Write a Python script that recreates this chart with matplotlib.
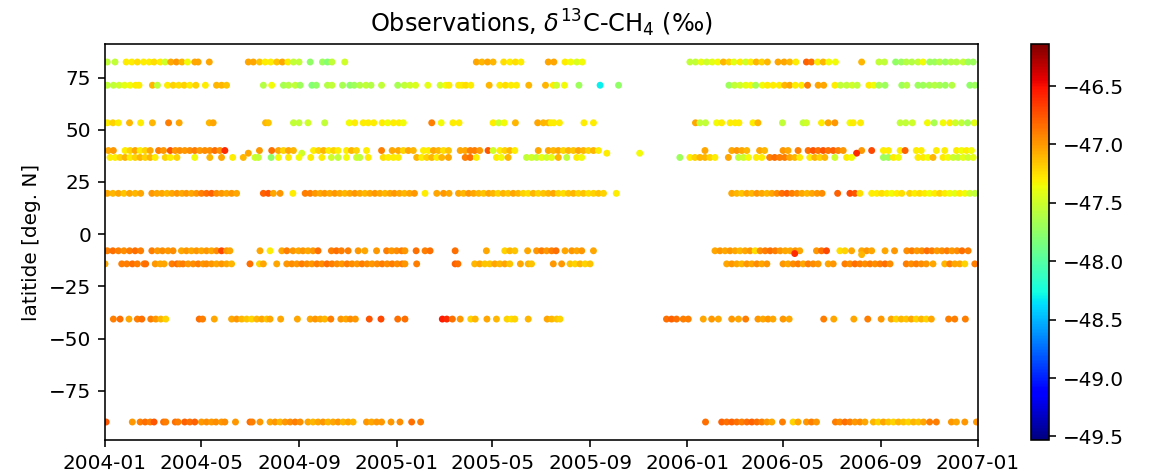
import numpy as np
import matplotlib
matplotlib.use("Agg")
import matplotlib.pyplot as plt
import matplotlib.dates as mdates

# observation times are given in weeks since 2004-01-01
t0 = np.datetime64('2004-01-01T00')

# colour scale limits of d13C-CH4 [permil]
d13c_min = -49.53
d13c_max = -46.14

# Alert
lat_alt = 82.45
alt_wk = [0.4, 1.8, 3.8, 4.8, 5.8, 6.9, 7.9, 8.8, 9.9, 10.8, 11.8, 12.8, 13.8, 14.8, 16.1, 16.7, 18.7,
          25.7, 26.6, 27.7, 28.7, 29.7, 30.8, 31.8, 32.8, 33.8, 34.8, 36.8, 39.0, 39.9, 40.7, 43.0,
          66.6, 67.6, 68.6, 69.6, 71.5, 72.6, 73.6, 74.6, 79.5, 80.5, 82.5, 83.5, 84.6, 85.6,
          104.9, 105.9, 106.9, 107.9, 108.9, 109.9, 110.9, 111.9, 112.8, 113.9, 114.9, 115.8, 116.8, 117.8,
          118.8, 120.7, 121.8, 122.8, 123.9, 125.8, 126.7, 127.8, 128.8, 129.8, 131.0, 135.7, 138.8, 139.8,
          141.8, 142.8, 143.7, 144.7, 145.8, 146.7, 147.9, 148.8, 149.7, 150.7, 151.7, 152.7, 153.9, 154.8, 155.7]
alt_d13c = [-47.55, -47.55, -47.3, -47.3, -47.25, -47.3, -47.3, -47.25, -47.3, -47.5, -47.05, -47.0, -47.1,
            -47.35, -47.05, -47.05, -47.05,
            -47.05, -47.05, -47.15, -47.3, -47.3, -47.15, -47.05, -47.3, -47.55, -47.55, -47.75, -47.7, -47.8,
            -47.55, -47.5,
            -47.05, -47.1, -47.05, -47.1, -47.25, -47.3, -47.25, -47.3, -47.05, -47.05, -47.3, -47.35, -47.45, -47.35,
            -47.55, -47.55, -47.4, -47.5, -47.4, -47.35, -47.1, -47.2, -47.4, -47.3, -47.5, -47.3, -47.1, -47.2,
            -47.1, -47.05, -47.05, -47.1, -47.3, -46.8, -46.85, -47.3, -47.1, -47.35, -47.35, -47.1, -47.55, -47.55,
            -47.75, -47.7, -47.6, -47.6, -47.55, -47.35, -47.7, -47.7, -47.6, -47.7, -47.6, -47.6, -47.55, -47.7, -47.7]

# Barrow
lat_brw = 71.32
brw_wk = [0.4, 1.5, 2.5, 3.5, 4.5, 5.5, 6.1, 8.5, 9.4, 11.2, 12.2, 13.2, 14.2, 15.2, 16.3, 18.0, 20.0, 20.9, 21.8,
          28.4, 29.9, 32.0, 32.9, 34.1, 35.0, 37.1, 37.9, 39.9, 40.7, 42.6, 43.9, 44.7, 45.7, 46.8, 47.7, 49.6,
          52.5, 53.7, 54.7, 55.7, 57.9, 60.1, 61.1, 61.7, 63.4, 64.0, 64.7, 65.6, 68.9, 70.8, 71.8, 72.8, 73.8,
          76.0, 79.0,
          80.4, 81.0, 82.4, 85.0, 88.8, 92.1,
          111.9, 112.9, 113.9, 114.9, 115.8, 116.7, 117.9, 118.8, 119.8, 120.9, 121.9, 122.8, 123.8, 124.9,
          126.0, 127.9, 128.9, 130.9, 131.9, 133.0, 134.0, 134.9, 137.0, 137.9, 138.8, 139.9, 142.9, 143.8,
          145.8, 146.7, 147.8, 148.8, 149.7, 150.7, 151.9, 155.1, 156.0]
brw_d13c = [-47.55, -47.55, -47.5, -47.4, -47.35, -47.3, -47.3, -47.1, -47.55, -47.3, -47.2, -47.25, -47.2, -47.3,
            -47.2, -47.3, -47.1, -47.1, -47.15,
            -47.6, -47.35, -47.65, -47.6, -47.55, -47.7, -47.8, -47.75, -47.6, -47.55, -47.65, -47.75, -47.7, -47.6,
            -47.55, -47.6, -47.55, -47.65, -47.55, -47.5, -47.45, -47.4, -47.5, -47.35, -47.3, -47.3, -47.3,
            -47.25, -47.3, -47.1, -47.3, -47.25, -47.3, -47.3, -47.1, -47.1,
            -47.3, -47.5, -47.35, -47.7, -48.3, -47.75,
            -47.7, -47.55, -47.5, -47.4, -47.35, -47.65, -47.35, -47.3, -47.3, -47.3, -47.1, -47.05, -47.3, -47.3,
            -46.9, -47.05, -47.05, -47.3, -47.55, -47.55, -47.5, -47.55, -47.3, -47.35, -47.65, -47.7, -47.7, -47.6,
            -47.7, -47.7, -47.65, -47.6, -47.65, -47.7, -47.6, -47.75, -47.7]

# Mace Head
lat_mhd = 53.33
mhd_wk = [0.4, 1.4, 2.4, 4.4, 6.4, 8.5, 11.4, 13.3, 18.7, 19.4, 28.8, 29.3, 33.8, 34.8, 36.4, 39.4, 43.8, 44.8,
          46.3, 47.2, 48.2, 49.7, 50.7, 51.7, 52.7, 53.5, 58.6, 60.3, 62.4, 63.5, 69.6, 70.6, 71.6, 73.6, 77.6,
          78.6, 79.5, 80.0, 80.5, 81.5, 85.9, 87.6,
          105.9, 106.7, 107.7, 109.7, 110.6, 112.1, 113.0, 113.7, 116.2, 117.1, 121.5, 125.2, 125.8, 128.5,
          129.7, 130.9, 133.6, 134.2, 135.5, 142.6, 143.6, 144.8, 147.5, 148.7, 150.3, 151.5, 152.5, 153.6,
          154.7, 155.9]
mhd_d13c = [-47.3, -47.2, -47.3, -47.1, -47.3, -47.1, -46.9, -47.05, -47.1, -47.05, -47.1, -47.15, -47.55, -47.55,
            -47.5, -47.55, -47.35, -47.3, -47.3, -47.3, -47.3, -47.3, -47.35, -47.3, -47.3, -47.35, -46.9, -47.35,
            -47.3, -47.3, -47.3, -47.5, -47.35, -47.1, -47.05, -47.1, -47.1, -47.3, -47.3, -47.3, -47.3, -47.3,
            -47.05, -47.55, -47.55, -47.35, -47.3, -47.3, -47.3, -47.3, -47.3, -47.1, -47.55, -47.55, -47.5, -47.3,
            -47.05, -47.0, -47.35, -47.3, -47.3, -47.55, -47.55, -47.5, -47.35, -47.65, -47.35, -47.3, -47.5,
            -47.55, -47.65, -47.4]

# Niwot Ridge
lat_nwr = 40.05
nwr_wk = [0.6, 1.5, 3.6, 4.5, 5.4, 6.3, 7.2, 8.1, 9.6, 10.5, 11.7, 12.6, 13.4, 14.3, 15.2, 16.1, 17.0, 17.9,
          18.8, 19.7, 20.6, 21.5,
          27.7, 29.9, 31.1, 32.0, 32.9, 33.8, 37.4, 38.3, 39.2, 40.1, 41.0, 41.8, 43.3, 44.2, 45.1, 46.9, 49.6, 51.5,
          52.6, 53.5, 54.4, 55.3, 57.1, 58.0, 58.9, 59.8, 60.7, 61.6, 63.7, 64.6, 65.5, 66.3, 67.2, 68.7, 69.6,
          70.8, 71.7, 72.6, 73.5,
          77.7, 79.5, 80.4, 81.3, 82.2, 83.1, 84.0, 84.9, 85.8, 86.7, 87.6, 88.5,
          107.6, 112.4, 113.3, 114.2, 115.1, 117.4, 118.3, 121.6, 122.5, 124.3, 126.1, 127.0, 127.9, 128.8,
          129.7, 130.6, 131.5, 132.4,
          135.7, 137.5, 139.6, 140.5, 142.6, 143.5, 145.5, 146.4, 149.1, 150.6, 152.7, 153.6, 154.5, 155.4]
nwr_d13c = [-47.05, -47.0, -47.3, -47.2, -47.05, -47.3, -47.2, -47.05, -46.9, -47.0, -46.75, -47.0, -46.95, -47.0,
            -46.95, -46.9, -47.0, -46.95, -46.95, -46.85, -46.95, -46.6,
            -47.0, -46.85, -47.05, -47.2, -47.05, -47.1, -47.3, -47.2, -47.1, -47.3, -47.2, -47.3, -47.3, -47.1,
            -47.2, -47.3, -46.9, -47.05,
            -47.05, -47.2, -47.05, -47.1, -47.3, -47.3, -47.05, -47.1, -47.25, -47.15, -47.05, -47.05, -46.9,
            -46.9, -47.0, -46.75, -47.5, -47.3, -47.2, -47.1, -47.3,
            -47.05, -47.05, -47.1, -47.05, -47.2, -47.1, -47.15, -47.05, -47.1, -47.2, -47.1, -47.3,
            -47.05, -47.05, -47.0, -47.05, -47.1, -47.05, -47.1, -47.0, -47.05, -46.9, -46.85, -46.75, -46.85,
            -46.75, -46.85, -46.8, -46.9, -47.0,
            -47.0, -46.7, -47.3, -47.3, -47.3, -46.8, -47.3, -47.3, -47.3, -47.3, -47.3, -47.35, -47.3, -47.35]

# Azores
lat_azr = 38.77
azr_wk = [25.7, 35.3, 90.0, 95.9, 134.8]
azr_d13c = [-47.05, -47.5, -47.3, -47.35, -46.6]

# Tae-ahn Peninsula
lat_tap = 36.73
tap_wk = [0.9, 1.8, 2.7, 3.6, 4.5, 5.4, 6.3, 7.2, 8.1, 9.0, 10.8, 11.7, 12.9, 16.1, 18.8, 20.9, 22.9, 24.8,
          26.9, 27.5, 29.8, 31.1, 32.9, 34.8, 36.9, 38.9, 40.6, 41.8, 43.3, 45.1, 45.7, 47.2, 49.9, 50.8, 51.7, 52.6,
          55.9, 56.8, 57.7, 58.6, 59.5, 60.4, 61.6, 64.6, 65.5, 66.6, 70.2, 71.1, 72.3, 75.6, 76.5, 77.4, 78.3,
          79.2, 80.1, 81.3, 82.8, 84.6, 85.5,
          103.1, 104.9, 105.8, 106.7, 107.6, 108.5, 109.4, 111.8, 113.6, 114.5, 115.4, 116.8, 117.8, 119.2,
          120.1, 121.0, 121.9, 122.8, 123.7, 124.6, 126.4, 127.3, 128.2, 129.1, 130.9, 133.0, 133.9, 139.6,
          140.5, 141.4, 142.3, 145.8, 146.7, 147.6, 148.5, 150.3, 151.2, 152.1, 153.0, 153.9, 154.8, 155.7]
tap_d13c = [-47.3, -47.3, -47.2, -47.1, -47.3, -47.2, -47.1, -47.2, -47.1, -47.3, -47.2, -47.3, -47.2, -47.35,
            -47.1, -47.05, -47.3, -47.1, -47.5, -47.55, -47.75, -47.35, -47.3, -47.35, -47.3, -47.3, -47.5,
            -47.55, -47.35, -47.5, -47.55, -47.3, -47.25, -47.3, -47.3, -47.3,
            -47.1, -47.3, -47.2, -47.1, -47.3, -47.1, -47.05, -46.9, -46.85, -47.3, -47.3, -47.35, -47.1, -47.55,
            -47.5, -47.55, -47.4, -47.5, -47.4, -47.1, -47.55, -47.3, -47.35,
            -47.7, -47.3, -47.2, -47.1, -47.1, -47.2, -47.3, -47.05, -47.55, -47.5, -47.35, -47.3, -47.3, -46.9,
            -46.85, -46.9, -46.9, -47.05, -47.1, -47.3, -47.3, -47.1, -47.2, -47.1, -47.5, -47.3, -47.35, -47.7,
            -47.7, -47.3, -47.35, -47.3, -47.3, -47.35, -47.1, -47.3, -47.35, -47.5, -47.55, -47.4, -47.5, -47.4]

# Mauna Loa
lat_mlo = 19.54
mlo_wk = [0.4, 1.4, 2.4, 3.4, 4.4, 5.4, 6.4, 8.4, 9.3, 10.2, 11.1, 12.0, 12.9, 13.8, 14.6, 15.5, 16.4, 17.3,
          18.2, 19.1, 20.0, 20.9, 21.8, 22.7, 23.6,
          28.4, 29.3, 30.2, 31.4, 33.7, 35.9, 36.8, 37.7, 38.6, 39.4, 40.3, 41.2, 42.1, 43.0, 43.9, 44.8, 45.7,
          46.6, 47.5, 48.4, 49.3, 50.2, 51.1, 51.9, 52.8, 53.7, 54.6, 55.5, 57.4, 59.5, 60.7, 61.7, 63.4, 64.3,
          65.2, 66.1, 67.0, 67.9, 68.8, 69.6, 70.5, 71.4, 72.3, 73.2, 74.1, 75.0, 75.9, 76.8, 77.7, 78.6, 79.5,
          80.4, 81.3, 82.2, 83.1, 84.0, 84.9, 85.8, 86.7, 87.6, 88.5, 89.4, 91.7,
          112.4, 113.3, 114.2, 115.1, 116.0, 116.9, 117.8, 118.7, 119.6, 120.5, 121.4, 122.3, 123.2, 124.1,
          125.0, 125.9, 126.8, 127.7, 128.6, 131.4, 133.6, 134.5, 135.4, 137.5, 138.4, 139.3, 140.2, 141.1,
          142.0, 142.9, 144.3, 145.2, 146.1, 147.0, 147.9, 148.8, 149.7, 150.6, 151.5, 152.4, 153.3, 154.2,
          155.1, 156.0]
mlo_d13c = [-47.05, -47.1, -47.05, -47.15, -47.05, -47.1, -47.05, -47.0, -47.05, -47.05, -47.1, -47.05, -47.0,
            -47.05, -47.0, -47.05, -47.0, -46.9, -46.85, -46.8, -46.95, -47.0, -47.05, -47.0, -47.05,
            -46.8, -46.75, -47.05, -47.0, -47.3, -46.9, -46.9, -47.0, -47.05, -47.0, -47.05, -47.0, -47.05,
            -47.1, -47.05, -47.0, -47.05, -47.1, -47.05, -47.0, -47.05, -47.1, -47.05, -47.0, -47.05, -47.1,
            -47.05, -47.0, -47.3, -47.05, -47.0, -47.05, -47.05, -47.1, -47.0, -47.05, -47.1, -47.15, -47.05,
            -47.1, -47.2, -47.1, -47.15, -47.05, -47.1, -47.2, -47.25, -47.1, -47.2, -47.15, -47.1, -47.05,
            -47.2, -47.25, -47.15, -47.1, -47.2, -47.15, -47.25, -47.2, -47.15, -47.2, -47.3,
            -47.05, -47.1, -47.15, -47.05, -47.1, -47.0, -47.05, -47.1, -47.05, -46.95, -46.85, -46.8, -46.9,
            -46.95, -47.05, -47.1, -47.05, -47.0, -46.95, -46.8, -46.7, -46.75, -47.25, -47.3, -47.3, -47.25,
            -47.3, -47.35, -47.3, -47.25, -47.2, -47.3, -47.25, -47.3, -47.35, -47.3, -47.2, -47.3, -47.35,
            -47.4, -47.3, -47.35, -47.5, -47.55]

# Ascension Island
lat_asc = -7.97
asc_wk = [0.4, 1.4, 2.4, 3.4, 4.4, 5.4, 6.4, 8.4, 9.4, 10.3, 11.3, 12.2, 13.7, 14.6, 15.5, 16.4, 17.3, 18.2,
          19.1, 20.0, 20.9, 21.8, 22.4,
          27.8, 29.6, 31.7, 32.6, 33.7, 34.7, 35.5, 36.4, 37.3, 38.2, 40.6, 41.5, 42.4, 43.6, 45.4, 46.6, 48.7,
          50.5, 51.4, 52.3, 53.2, 53.8, 55.8, 57.4, 58.3, 62.8, 68.4, 71.7, 72.6, 73.5, 75.8, 77.4, 78.3, 79.2,
          80.1, 80.9, 82.5, 83.7, 84.6, 85.5, 87.6,
          109.4, 110.3, 111.2, 112.1, 113.0, 113.9, 114.8, 115.7, 116.6, 117.5, 118.4, 119.3, 120.2, 121.1,
          122.0, 122.9, 123.8, 124.6, 127.6, 128.5, 129.4, 131.8, 132.7, 133.9, 135.7, 136.6, 137.5, 139.9,
          141.6, 143.8, 144.7, 145.6, 146.5, 147.4, 148.3, 149.2, 150.1, 151.0, 151.9, 152.8, 153.7, 154.8]
asc_d13c = [-46.9, -46.85, -46.9, -46.95, -46.9, -46.85, -46.9, -46.9, -47.0, -46.95, -47.0, -46.95, -47.05,
            -47.0, -47.05, -47.0, -47.05, -47.0, -47.05, -46.95, -46.7, -47.0, -47.05,
            -47.05, -47.3, -47.05, -46.9, -47.0, -47.05, -47.0, -47.05, -47.0, -46.85, -46.9, -46.85, -46.9,
            -46.9, -47.0, -47.05, -47.0, -46.9, -47.0, -46.95, -46.9, -47.0, -46.85, -46.9, -46.85, -46.85,
            -47.05, -47.2, -47.1, -47.15, -47.05, -47.0, -46.9, -47.0,
            -46.9, -46.85, -47.05, -47.0, -47.05, -47.0, -47.05,
            -47.05, -47.0, -47.05, -47.0, -47.05, -47.1, -47.05, -47.0, -47.25, -46.95, -46.9, -46.85, -46.9,
            -47.0, -47.05, -47.05, -47.0, -47.05, -47.0, -46.85, -46.7, -47.25, -47.2, -47.05, -47.05, -47.0,
            -47.05, -47.05, -47.0, -46.95, -46.9, -47.0, -46.95, -46.85, -46.9, -47.0, -46.95, -46.9, -47.0,
            -46.95, -46.85, -46.9]

# ship samples near Ascension
ship_wk = [123.7, 135.7]
ship_lat = [-9.3, -9.8]
ship_d13c = [-46.6, -47.1]

# Samoa
lat_smo = -14.24
smo_wk = [0.0, 3.0, 3.9, 4.9, 5.8, 7.0, 7.3, 9.0, 9.9, 10.6, 12.0, 12.9, 13.4, 14.0, 14.9, 15.8, 16.7, 17.6,
          18.2, 19.1, 20.0, 20.9, 21.8, 22.7,
          26.0, 27.7, 28.4, 30.8, 32.6, 33.5, 34.4, 35.3, 36.2, 37.1, 38.0, 38.9, 39.8, 40.7, 41.6, 42.5, 43.4,
          44.3, 45.2, 46.1, 47.0, 47.9, 48.8, 49.7, 50.6, 51.5, 52.4, 53.3, 53.8, 55.9, 62.8, 63.3, 66.3, 67.2,
          68.1, 69.0, 69.9, 70.8, 71.7, 72.6, 74.5, 75.9, 76.5,
          80.4, 81.9, 83.4, 84.3, 85.2, 86.1, 87.0,
          111.5, 112.4, 113.3, 114.2, 115.1, 116.0, 116.9, 117.8, 118.7, 121.6, 122.5, 123.4, 124.3, 125.2,
          126.1, 127.0, 127.9, 129.7, 130.6, 132.7, 133.6, 134.5, 135.4, 136.3, 137.2, 138.1, 139.0, 139.9,
          140.8, 143.7, 144.6, 145.5, 146.4, 147.3, 148.5, 150.6, 151.5, 152.4, 153.3, 154.2, 156.0]
smo_d13c = [-47.05, -46.9, -46.9, -46.85, -46.9, -46.9, -46.85, -47.0, -47.05, -47.05, -46.9, -46.85, -46.95,
            -46.9, -47.0, -46.95, -46.9, -47.0, -46.95, -47.0, -47.05, -47.0, -47.05, -47.1,
            -46.85, -47.2, -47.05, -47.05, -47.0, -46.95, -47.0, -46.9, -46.95, -47.0, -46.9, -46.95, -46.85,
            -46.9, -46.95, -47.0, -46.9, -46.95, -47.0, -46.9, -46.95, -47.0, -46.95, -46.9, -46.95, -46.9,
            -46.95, -46.9, -47.0, -46.9, -46.8, -46.85, -47.1, -47.05, -47.15, -47.15, -47.05, -47.1, -47.05,
            -47.15, -47.05, -47.1, -47.15,
            -47.0, -47.0, -47.15, -47.2, -47.1, -47.2, -47.15,
            -47.05, -47.0, -47.05, -47.1, -47.0, -47.05, -46.95, -47.05, -47.0, -47.0, -47.05, -46.95, -46.9,
            -47.05, -46.9, -46.95, -47.0, -47.05, -47.0, -46.9, -46.95, -46.85, -46.9, -46.95, -46.9, -46.95,
            -46.9, -46.85, -46.95, -46.9, -46.95, -46.9, -46.95, -47.0, -47.05, -47.1, -46.9, -47.05, -47.05,
            -47.2, -46.9]

# Cape Grim
lat_cgo = -40.68
cgo_wk = [1.5, 2.7, 4.3, 5.8, 6.6, 8.2, 9.1, 10.0, 10.9, 16.9, 17.5, 19.6, 22.7, 23.6, 24.5, 25.4, 26.3, 27.2,
          28.1, 29.0, 29.6, 31.5, 34.5, 36.8, 37.7, 38.6, 39.4, 40.5, 42.3, 43.2, 44.0, 44.9, 47.4, 49.5, 52.5,
          53.8, 60.5, 61.3, 62.3, 63.7, 65.6, 66.4, 68.5, 70.2, 72.1, 72.9, 73.5, 75.9, 79.3, 80.1, 81.0, 81.6,
          100.7, 101.6, 102.5, 103.7, 104.6, 107.3, 108.8, 110.0, 112.4, 113.6, 114.9, 117.1, 118.0, 118.9,
          119.8, 121.6, 122.7,
          128.9, 130.7, 134.3, 136.8, 139.2, 141.0, 141.9, 142.8, 143.7, 144.6, 145.5, 146.4, 147.3, 148.2,
          151.3, 152.4, 154.3]
cgo_d13c = [-46.9, -46.85, -47.05, -46.9, -46.85, -46.9, -47.0, -47.1, -47.2, -46.85, -46.9, -47.05,
            -47.05, -47.0, -47.1, -47.15, -47.2, -47.1, -47.05, -47.15, -47.05, -47.05, -47.05, -47.05, -47.0,
            -47.05, -47.1, -46.9, -47.0, -47.05, -46.95, -47.0, -46.75, -46.7, -46.85, -46.85, -46.55, -46.6,
            -46.85, -47.0, -47.2, -47.1, -47.05, -47.1, -47.2, -47.25, -47.2, -47.1, -47.05, -47.1, -47.15, -47.2,
            -46.85, -46.8, -46.85, -46.9, -46.9, -47.05, -47.0, -47.05, -47.0, -47.05, -46.9, -47.0, -47.05,
            -47.0, -47.05, -47.0, -47.05,
            -46.9, -47.05, -47.05, -46.9, -47.0, -47.05, -47.2, -47.1, -47.15, -47.05, -47.2, -47.1, -47.2,
            -47.05, -46.9, -46.9, -46.9]

# South Pole
lat_spo = -89.98
spo_wk = [0.2, 4.9, 6.3, 7.2, 8.1, 8.8, 10.5, 10.9, 12.6, 13.1, 14.3, 15.2, 16.1, 17.3, 18.2, 19.1, 19.9, 20.9,
          21.5, 23.4, 26.0, 26.4, 27.8, 29.6, 30.5, 31.4, 32.3, 33.2, 34.1, 35.0, 36.4, 37.3, 38.2, 39.1, 40.0,
          40.9, 41.8, 42.7, 43.6, 44.5, 46.9, 47.8, 48.7, 49.6, 51.3, 52.9, 55.0, 56.6,
          107.7, 110.6, 111.5, 112.4, 113.3, 114.2, 115.1, 116.0, 116.9, 117.8, 118.7, 119.6, 121.5, 123.4,
          124.3, 125.8, 126.7, 127.6, 131.0, 131.8, 132.7, 133.6, 134.5, 135.4, 136.3, 137.8, 138.7, 139.6,
          140.5, 141.4, 142.3, 143.2, 144.1, 145.0, 145.9, 146.8, 147.9, 149.1, 151.8, 152.7, 154.2, 156.3]
spo_d13c = [-46.75, -47.0, -46.9, -46.85, -46.9, -46.75, -46.85, -46.9, -46.85, -46.9, -46.8, -46.85, -46.8,
            -47.0, -46.95, -47.0, -46.95, -47.0, -46.95, -47.0, -46.85, -46.9, -47.0, -47.05, -47.0, -47.1,
            -47.0, -46.95, -46.9, -46.95, -47.05, -47.1, -47.05, -47.0, -47.1, -47.05, -47.0, -47.1, -47.05,
            -47.1, -47.0, -47.05, -47.0, -47.0, -47.0, -46.95, -46.85, -46.9,
            -46.85, -46.8, -46.85, -46.8, -46.85, -46.9, -46.85, -46.8, -46.85, -46.9, -47.0, -47.05, -46.9,
            -47.2, -47.05, -47.0, -46.9, -47.0, -46.9, -46.95, -46.85, -46.9, -47.0, -46.95, -47.05, -47.1,
            -47.2, -47.05, -47.15, -47.2, -47.1, -47.15, -47.2, -47.1, -47.15, -47.05, -46.9, -46.9, -47.0,
            -47.05, -47.0, -47.0]

stations = [
    (alt_wk, alt_d13c, lat_alt),
    (brw_wk, brw_d13c, lat_brw),
    (mhd_wk, mhd_d13c, lat_mhd),
    (nwr_wk, nwr_d13c, lat_nwr),
    (azr_wk, azr_d13c, lat_azr),
    (tap_wk, tap_d13c, lat_tap),
    (mlo_wk, mlo_d13c, lat_mlo),
    (asc_wk, asc_d13c, lat_asc),
    (smo_wk, smo_d13c, lat_smo),
    (cgo_wk, cgo_d13c, lat_cgo),
    (spo_wk, spo_d13c, lat_spo),
]


def to_time(wk):
    hours = np.round(np.asarray(wk) * 7 * 24).astype(int)
    return t0 + hours.astype('timedelta64[h]')


W, H, DPI = 1153, 475, 144
fig = plt.figure(figsize=(W / DPI, H / DPI), dpi=DPI)
ax = fig.add_axes([105 / W, 35 / H, 873 / W, 396 / H])
cax = fig.add_axes([1031 / W, 35 / H, 18 / W, 396 / H])

scat_kw = dict(cmap='jet', vmin=d13c_min, vmax=d13c_max, s=12, linewidths=0)
for wk, d13c, lat in stations:
    sc = ax.scatter(to_time(wk), np.full(len(wk), lat), c=d13c, **scat_kw)
ax.scatter(to_time(ship_wk), ship_lat, c=ship_d13c, **scat_kw)

ax.set_xlim(np.datetime64('2004-01-01'), np.datetime64('2007-01-01'))
ax.xaxis.set_major_locator(mdates.MonthLocator(bymonth=[1, 5, 9]))
ax.xaxis.set_major_formatter(mdates.DateFormatter('%Y-%m'))
ax.set_ylabel('latitide [deg. N]')
ax.set_title(r'Observations, $\delta^{13}$C-CH$_4$ (‰)')

fig.colorbar(sc, cax=cax)

fig.savefig('out.png', dpi=DPI)
